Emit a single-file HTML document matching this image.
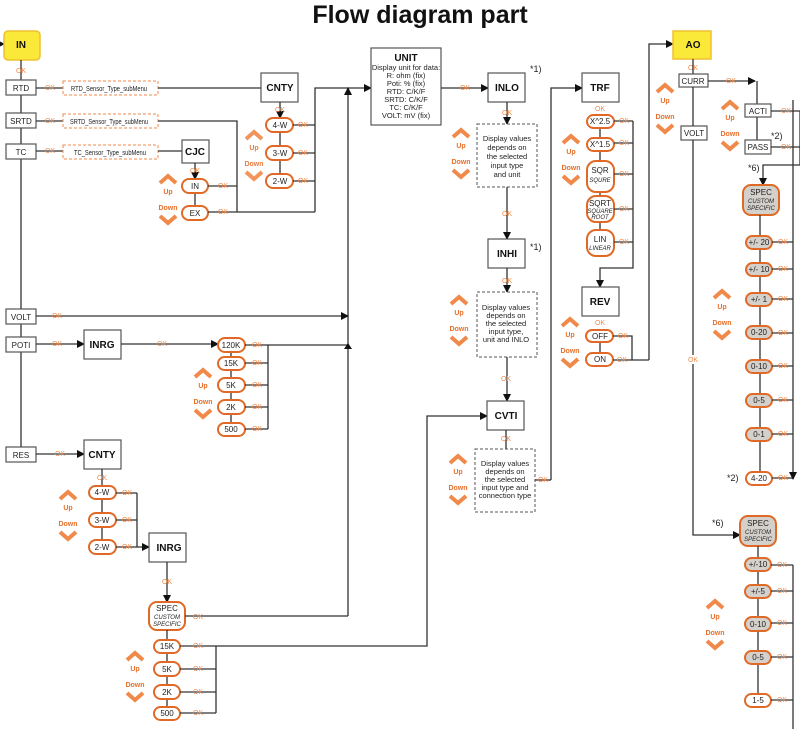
<!DOCTYPE html>
<html><head><meta charset="utf-8"><style>
html,body{margin:0;padding:0;background:#fff;}
svg{display:block;}
text{font-family:"Liberation Sans",sans-serif;}
.ok{fill:#f08a4b;font-size:7px;text-anchor:middle;}
.l{stroke:#333;stroke-width:1.3;fill:none;}
.b{fill:#fff;stroke:#555;stroke-width:1.2;}
.p{fill:#fff;stroke:#e06a25;stroke-width:2;}
.pg{fill:#d4d0cc;stroke:#e06a25;stroke-width:2;}
.pt{font-size:8px;text-anchor:middle;fill:#222;}
.bt{font-size:10px;font-weight:bold;text-anchor:middle;fill:#111;}
.st{font-size:6px;font-style:italic;text-anchor:middle;fill:#222;}
.d{fill:#fff;stroke:#555;stroke-width:1;stroke-dasharray:3,2;}
.do{fill:#fff;stroke:#f08a4b;stroke-width:1;stroke-dasharray:3,2;}
.ud{fill:#e8702a;font-size:7px;font-weight:bold;text-anchor:middle;}
.dt{font-size:7.5px;text-anchor:middle;fill:#222;}
.sm{font-size:7px;fill:#222;}
</style></head><body>
<svg width="800" height="729" viewBox="0 0 800 729" xmlns="http://www.w3.org/2000/svg">
<defs>
<marker id="a" markerWidth="8" markerHeight="8" refX="7" refY="4" orient="auto" markerUnits="userSpaceOnUse"><path d="M0,0 L8,4 L0,8 z" fill="#111"/></marker>
<g id="ud">
<path d="M-8,6 L0,-1 L8,6" stroke="#f08a4b" stroke-width="4" fill="none"/>
<text class="ud" x="0" y="17">Up</text>
<text class="ud" x="0" y="33">Down</text>
<path d="M-8,39 L0,46 L8,39" stroke="#f08a4b" stroke-width="4" fill="none"/>
</g>
</defs>
<text x="420" y="23" font-size="25" font-weight="bold" text-anchor="middle" fill="#111">Flow diagram part</text>

<!-- IN -->
<line class="l" x1="0" y1="44" x2="4" y2="44" marker-end="url(#a)"/>
<rect x="4" y="31" width="36" height="29" rx="4" fill="#fbe93a" stroke="#f0c030" stroke-width="1.5"/>
<text class="bt" x="21" y="48">IN</text>
<line class="l" x1="21" y1="60" x2="21" y2="455"/>
<text class="ok" x="21" y="73">OK</text>
<rect class="b" x="6" y="80" width="30" height="15"/><text class="pt" x="21" y="91">RTD</text>
<rect class="b" x="6" y="113" width="30" height="15"/><text class="pt" x="21" y="124">SRTD</text>
<rect class="b" x="6" y="144" width="30" height="15"/><text class="pt" x="21" y="155">TC</text>
<rect class="b" x="6" y="309" width="30" height="15"/><text class="pt" x="21" y="320">VOLT</text>
<rect class="b" x="6" y="337" width="30" height="15"/><text class="pt" x="21" y="348">POTI</text>
<rect class="b" x="6" y="447" width="30" height="15"/><text class="pt" x="21" y="458">RES</text>

<line class="l" x1="36" y1="88" x2="63" y2="88"/><text class="ok" x="50" y="90">OK</text>
<line class="l" x1="36" y1="121" x2="63" y2="121"/><text class="ok" x="50" y="123">OK</text>
<line class="l" x1="36" y1="151" x2="63" y2="151"/><text class="ok" x="50" y="153">OK</text>
<rect class="do" x="63" y="81" width="95" height="14"/><text class="sm" x="71" y="91" textLength="76" lengthAdjust="spacingAndGlyphs">RTD_Sensor_Type_subMenu</text>
<rect class="do" x="63" y="114" width="95" height="14"/><text class="sm" x="70" y="124" textLength="78" lengthAdjust="spacingAndGlyphs">SRTD_Sensor_Type_subMenu</text>
<rect class="do" x="63" y="145" width="95" height="14"/><text class="sm" x="74" y="155" textLength="72" lengthAdjust="spacingAndGlyphs">TC_Sensor_Type_subMenu</text>

<line class="l" x1="158" y1="88" x2="261" y2="88"/>
<polyline class="l" points="158,121 237,121 237,212"/>
<line class="l" x1="158" y1="151" x2="182" y2="151"/>

<!-- CJC -->
<rect class="b" x="182" y="140" width="27" height="23"/><text class="bt" x="195" y="155">CJC</text>
<line class="l" x1="195" y1="163" x2="195" y2="179" marker-end="url(#a)"/>
<text class="ok" x="195" y="173">OK</text>
<line class="l" x1="195" y1="193" x2="195" y2="206"/>
<rect class="p" x="182" y="179" width="26" height="14" rx="7"/><text class="pt" x="195" y="189">IN</text>
<rect class="p" x="182" y="206" width="26" height="14" rx="7"/><text class="pt" x="195" y="216">EX</text>
<line class="l" x1="208" y1="186" x2="237" y2="186"/><text class="ok" x="223" y="188">OK</text>
<line class="l" x1="208" y1="212" x2="315" y2="212"/><text class="ok" x="223" y="214">OK</text>
<use href="#ud" x="168" y="177"/>

<!-- CNTY top -->
<rect class="b" x="261" y="73" width="37" height="29"/><text class="bt" x="280" y="91">CNTY</text>
<line class="l" x1="280" y1="102" x2="280" y2="118" marker-end="url(#a)"/>
<text class="ok" x="280" y="112">OK</text>
<line class="l" x1="280" y1="132" x2="280" y2="174"/>
<rect class="p" x="266" y="118" width="27" height="14" rx="7"/><text class="pt" x="280" y="128">4-W</text>
<rect class="p" x="266" y="146" width="27" height="14" rx="7"/><text class="pt" x="280" y="156">3-W</text>
<rect class="p" x="266" y="174" width="27" height="14" rx="7"/><text class="pt" x="280" y="184">2-W</text>
<line class="l" x1="293" y1="125" x2="315" y2="125"/><text class="ok" x="303" y="127">OK</text>
<line class="l" x1="293" y1="153" x2="315" y2="153"/><text class="ok" x="303" y="155">OK</text>
<line class="l" x1="293" y1="181" x2="315" y2="181"/><text class="ok" x="303" y="183">OK</text>
<use href="#ud" x="254" y="133" opacity="0.9"/>
<polyline class="l" points="315,212 315,88 371,88" marker-end="url(#a)"/>
<line class="l" x1="348" y1="616" x2="348" y2="88" marker-end="url(#a)"/>

<!-- VOLT / POTI -->
<line class="l" x1="36" y1="316" x2="348" y2="316" marker-end="url(#a)"/><text class="ok" x="57" y="318">OK</text>
<line class="l" x1="36" y1="344" x2="84" y2="344" marker-end="url(#a)"/><text class="ok" x="57" y="346">OK</text>
<rect class="b" x="84" y="330" width="37" height="29"/><text class="bt" x="102" y="348">INRG</text>
<line class="l" x1="121" y1="344" x2="218" y2="344" marker-end="url(#a)"/><text class="ok" x="162" y="346">OK</text>
<line class="l" x1="231" y1="351" x2="231" y2="423"/>
<rect class="p" x="218" y="338" width="27" height="14" rx="7"/><text class="pt" x="231" y="348">120K</text>
<rect class="p" x="218" y="357" width="27" height="13" rx="6.5"/><text class="pt" x="231" y="366">15K</text>
<rect class="p" x="218" y="378" width="27" height="14" rx="7"/><text class="pt" x="231" y="388">5K</text>
<rect class="p" x="218" y="400" width="27" height="14" rx="7"/><text class="pt" x="231" y="410">2K</text>
<rect class="p" x="218" y="423" width="27" height="13" rx="6.5"/><text class="pt" x="231" y="432">500</text>
<line class="l" x1="245" y1="345" x2="268" y2="345"/><text class="ok" x="257" y="347">OK</text>
<line class="l" x1="245" y1="363" x2="268" y2="363"/><text class="ok" x="257" y="365">OK</text>
<line class="l" x1="245" y1="385" x2="268" y2="385"/><text class="ok" x="257" y="387">OK</text>
<line class="l" x1="245" y1="407" x2="268" y2="407"/><text class="ok" x="257" y="409">OK</text>
<line class="l" x1="245" y1="429" x2="268" y2="429"/><text class="ok" x="257" y="431">OK</text>
<line class="l" x1="268" y1="345" x2="268" y2="429"/>
<line class="l" x1="268" y1="345" x2="348" y2="345"/>
<path d="M344,349 L348,343 L352,349z" fill="#111"/>
<use href="#ud" x="203" y="371"/>

<!-- RES -->
<line class="l" x1="36" y1="454" x2="84" y2="454" marker-end="url(#a)"/><text class="ok" x="60" y="456">OK</text>
<rect class="b" x="84" y="440" width="37" height="29"/><text class="bt" x="102" y="458">CNTY</text>
<line class="l" x1="102" y1="469" x2="102" y2="540"/><text class="ok" x="102" y="480">OK</text>
<rect class="p" x="89" y="486" width="27" height="13" rx="6.5"/><text class="pt" x="102" y="495">4-W</text>
<rect class="p" x="89" y="513" width="27" height="14" rx="7"/><text class="pt" x="102" y="523">3-W</text>
<rect class="p" x="89" y="540" width="27" height="14" rx="7"/><text class="pt" x="102" y="550">2-W</text>
<line class="l" x1="116" y1="493" x2="137" y2="493"/><text class="ok" x="127" y="495">OK</text>
<line class="l" x1="116" y1="520" x2="137" y2="520"/><text class="ok" x="127" y="522">OK</text>
<line class="l" x1="116" y1="547" x2="149" y2="547" marker-end="url(#a)"/><text class="ok" x="127" y="549">OK</text>
<line class="l" x1="137" y1="493" x2="137" y2="547"/>
<use href="#ud" x="68" y="493"/>
<rect class="b" x="149" y="533" width="37" height="29"/><text class="bt" x="169" y="551">INRG</text>
<line class="l" x1="167" y1="562" x2="167" y2="602" marker-end="url(#a)"/><text class="ok" x="167" y="584">OK</text>
<rect class="p" x="149" y="602" width="36" height="28" rx="8"/>
<text class="pt" x="167" y="611">SPEC</text><text class="st" x="167" y="619">CUSTOM</text><text class="st" x="167" y="626">SPECIFIC</text>
<line class="l" x1="185" y1="616" x2="348" y2="616"/><text class="ok" x="198" y="619">OK</text>
<line class="l" x1="167" y1="630" x2="167" y2="707"/>
<rect class="p" x="154" y="640" width="26" height="13" rx="6.5"/><text class="pt" x="167" y="649">15K</text>
<rect class="p" x="154" y="662" width="26" height="14" rx="7"/><text class="pt" x="167" y="672">5K</text>
<rect class="p" x="154" y="685" width="26" height="14" rx="7"/><text class="pt" x="167" y="695">2K</text>
<rect class="p" x="154" y="707" width="26" height="13" rx="6.5"/><text class="pt" x="167" y="716">500</text>
<line class="l" x1="180" y1="646" x2="216" y2="646"/><text class="ok" x="198" y="648">OK</text>
<line class="l" x1="180" y1="669" x2="216" y2="669"/><text class="ok" x="198" y="671">OK</text>
<line class="l" x1="180" y1="692" x2="216" y2="692"/><text class="ok" x="198" y="694">OK</text>
<line class="l" x1="180" y1="713" x2="216" y2="713"/><text class="ok" x="198" y="715">OK</text>
<line class="l" x1="216" y1="646" x2="216" y2="713"/>
<polyline class="l" points="216,646 427,646 427,416 487,416" marker-end="url(#a)"/>
<use href="#ud" x="135" y="654"/>

<!-- UNIT -->
<rect class="b" x="371" y="48" width="70" height="77"/>
<text class="bt" x="406" y="61">UNIT</text>
<text class="dt" font-size="6" x="406" y="70">Display unit for data:</text>
<text class="dt" font-size="6" x="406" y="78">R: ohm (fix)</text>
<text class="dt" font-size="6" x="406" y="86">Poti: % (fix)</text>
<text class="dt" font-size="6" x="406" y="94">RTD: C/K/F</text>
<text class="dt" font-size="6" x="406" y="102">SRTD: C/K/F</text>
<text class="dt" font-size="6" x="406" y="110">TC: C/K/F</text>
<text class="dt" font-size="6" x="406" y="118">VOLT: mV (fix)</text>
<line class="l" x1="441" y1="88" x2="488" y2="88" marker-end="url(#a)"/><text class="ok" x="465" y="90">OK</text>

<!-- INLO column -->
<rect class="b" x="488" y="73" width="37" height="29"/><text class="bt" x="507" y="91">INLO</text>
<text x="530" y="72" font-size="9" fill="#222">*1)</text>
<line class="l" x1="507" y1="102" x2="507" y2="124" marker-end="url(#a)"/><text class="ok" x="507" y="115">OK</text>
<rect class="d" x="477" y="124" width="60" height="63"/>
<text class="dt" x="507" y="141">Display values</text><text class="dt" x="507" y="150">depends on</text><text class="dt" x="507" y="159">the selected</text><text class="dt" x="507" y="168">input type</text><text class="dt" x="507" y="177">and unit</text>
<use href="#ud" x="461" y="131"/>
<line class="l" x1="507" y1="187" x2="507" y2="239" marker-end="url(#a)"/><text class="ok" x="507" y="216">OK</text>
<rect class="b" x="488" y="239" width="37" height="29"/><text class="bt" x="507" y="257">INHI</text>
<text x="530" y="250" font-size="9" fill="#222">*1)</text>
<line class="l" x1="507" y1="268" x2="507" y2="292" marker-end="url(#a)"/><text class="ok" x="507" y="283">OK</text>
<rect class="d" x="477" y="292" width="60" height="65"/>
<text class="dt" x="506" y="310">Display values</text><text class="dt" x="506" y="318">depends on</text><text class="dt" x="506" y="326">the selected</text><text class="dt" x="506" y="334">input type,</text><text class="dt" x="506" y="342">unit and INLO</text>
<use href="#ud" x="459" y="298"/>
<line class="l" x1="507" y1="357" x2="507" y2="401" marker-end="url(#a)"/><text class="ok" x="506" y="381">OK</text>
<rect class="b" x="487" y="401" width="37" height="29"/><text class="bt" x="506" y="419">CVTI</text>
<line class="l" x1="506" y1="430" x2="506" y2="449"/><text class="ok" x="506" y="441">OK</text>
<rect class="d" x="475" y="449" width="60" height="63"/>
<text class="dt" x="505" y="466">Display values</text><text class="dt" x="505" y="474">depends on</text><text class="dt" x="505" y="482">the selected</text><text class="dt" x="505" y="490">input type and</text><text class="dt" x="505" y="498">connection type</text>
<use href="#ud" x="458" y="457"/>
<line class="l" x1="535" y1="480" x2="551" y2="480"/><text class="ok" x="543" y="482">OK</text>
<polyline class="l" points="551,480 551,88 582,88" marker-end="url(#a)"/>

<!-- TRF -->
<rect class="b" x="582" y="73" width="37" height="29"/><text class="bt" x="600" y="91">TRF</text>
<text class="ok" x="600" y="111">OK</text>
<line class="l" x1="600" y1="128" x2="600" y2="230"/>
<rect class="p" x="587" y="115" width="27" height="13" rx="6.5"/><text class="pt" x="600" y="124">X^2.5</text>
<rect class="p" x="587" y="138" width="27" height="13" rx="6.5"/><text class="pt" x="600" y="147">X^1.5</text>
<rect class="p" x="587" y="161" width="27" height="31" rx="9"/><text class="pt" x="600" y="173">SQR</text><text class="st" x="600" y="182">SQURE</text>
<rect class="p" x="587" y="196" width="27" height="26" rx="9"/><text class="pt" x="600" y="206">SQRT</text><text class="st" x="600" y="213">SQUARE</text><text class="st" x="600" y="219">ROOT</text>
<rect class="p" x="587" y="230" width="27" height="26" rx="9"/><text class="pt" x="600" y="242">LIN</text><text class="st" x="600" y="250">LINEAR</text>
<line class="l" x1="614" y1="121" x2="633" y2="121"/><text class="ok" x="624" y="123">OK</text>
<line class="l" x1="614" y1="143" x2="633" y2="143"/><text class="ok" x="624" y="145">OK</text>
<line class="l" x1="614" y1="174" x2="633" y2="174"/><text class="ok" x="624" y="176">OK</text>
<line class="l" x1="614" y1="209" x2="633" y2="209"/><text class="ok" x="624" y="211">OK</text>
<line class="l" x1="614" y1="242" x2="633" y2="242"/><text class="ok" x="624" y="244">OK</text>
<polyline class="l" points="633,121 633,268 600,268 600,287" marker-end="url(#a)"/>
<use href="#ud" x="571" y="137"/>

<!-- REV -->
<rect class="b" x="582" y="287" width="37" height="29"/><text class="bt" x="600" y="305">REV</text>
<text class="ok" x="600" y="325">OK</text>
<line class="l" x1="600" y1="342" x2="600" y2="353"/>
<rect class="p" x="586" y="330" width="27" height="12" rx="6"/><text class="pt" x="600" y="339">OFF</text>
<rect class="p" x="586" y="353" width="27" height="13" rx="6.5"/><text class="pt" x="600" y="362">ON</text>
<polyline class="l" points="613,336 632,336 632,360"/><text class="ok" x="623" y="338">OK</text>
<line class="l" x1="613" y1="360" x2="649" y2="360"/><text class="ok" x="622" y="362">OK</text>
<polyline class="l" points="649,360 649,44 673,44" marker-end="url(#a)"/>
<use href="#ud" x="570" y="320"/>

<!-- AO -->
<rect x="673" y="31" width="38" height="28" fill="#fbe93a" stroke="#f0c030" stroke-width="1.5"/>
<text class="bt" x="693" y="48">AO</text>
<text class="ok" x="693" y="70">OK</text>
<line class="l" x1="693" y1="59" x2="693" y2="74"/>
<rect class="b" x="679" y="74" width="29" height="13"/><text class="pt" x="693" y="84">CURR</text>
<rect class="b" x="681" y="126" width="26" height="14"/><text class="pt" x="694" y="136">VOLT</text>
<line class="l" x1="693" y1="87" x2="693" y2="126"/>
<polyline class="l" points="693,140 693,535 740,535" marker-end="url(#a)"/>
<rect x="686" y="355" width="14" height="9" fill="#fff"/><text class="ok" x="693" y="362">OK</text>
<use href="#ud" x="665" y="86"/>
<line class="l" x1="708" y1="81" x2="755" y2="81" marker-end="url(#a)"/><text class="ok" x="731" y="83">OK</text>
<line class="l" x1="757" y1="81" x2="757" y2="147"/>
<rect class="b" x="745" y="104" width="26" height="13"/><text class="pt" x="758" y="114">ACTI</text>
<rect class="b" x="745" y="140" width="26" height="14"/><text class="pt" x="758" y="150">PASS</text>
<text x="771" y="139" font-size="9" fill="#222">*2)</text>
<line class="l" x1="771" y1="111" x2="800" y2="111"/><text class="ok" x="786" y="113">OK</text>
<line class="l" x1="771" y1="147" x2="800" y2="147"/><text class="ok" x="786" y="149">OK</text>
<polyline class="l" points="800,111 800,165 763,165 763,185" marker-end="url(#a)"/>
<text x="748" y="171" font-size="9" fill="#222">*6)</text>
<use href="#ud" x="730" y="103"/>

<rect class="pg" x="743" y="185" width="36" height="30" rx="8"/>
<text class="pt" x="761" y="195">SPEC</text><text class="st" x="761" y="203">CUSTOM</text><text class="st" x="761" y="210">SPECIFIC</text>
<line class="l" x1="760" y1="215" x2="760" y2="472"/>
<rect class="pg" x="746" y="236" width="26" height="13" rx="6.5"/><text class="pt" x="759" y="245">+/- 20</text>
<rect class="pg" x="746" y="263" width="26" height="13" rx="6.5"/><text class="pt" x="759" y="272">+/- 10</text>
<rect class="pg" x="746" y="293" width="26" height="13" rx="6.5"/><text class="pt" x="759" y="302">+/- 1</text>
<rect class="pg" x="746" y="326" width="26" height="13" rx="6.5"/><text class="pt" x="759" y="335">0-20</text>
<rect class="pg" x="746" y="360" width="26" height="13" rx="6.5"/><text class="pt" x="759" y="369">0-10</text>
<rect class="pg" x="746" y="394" width="26" height="13" rx="6.5"/><text class="pt" x="759" y="403">0-5</text>
<rect class="pg" x="746" y="428" width="26" height="13" rx="6.5"/><text class="pt" x="759" y="437">0-1</text>
<rect class="p" x="746" y="472" width="26" height="13" rx="6.5"/><text class="pt" x="759" y="481">4-20</text>
<text x="727" y="481" font-size="9" fill="#222">*2)</text>
<line class="l" x1="772" y1="242" x2="793" y2="242"/><text class="ok" x="783" y="244">OK</text>
<line class="l" x1="772" y1="269" x2="793" y2="269"/><text class="ok" x="783" y="271">OK</text>
<line class="l" x1="772" y1="299" x2="793" y2="299"/><text class="ok" x="783" y="301">OK</text>
<line class="l" x1="772" y1="333" x2="793" y2="333"/><text class="ok" x="783" y="335">OK</text>
<line class="l" x1="772" y1="366" x2="793" y2="366"/><text class="ok" x="783" y="368">OK</text>
<line class="l" x1="772" y1="400" x2="793" y2="400"/><text class="ok" x="783" y="402">OK</text>
<line class="l" x1="772" y1="434" x2="793" y2="434"/><text class="ok" x="783" y="436">OK</text>
<line class="l" x1="772" y1="478" x2="793" y2="478"/><text class="ok" x="783" y="480">OK</text>
<line class="l" x1="793" y1="100" x2="793" y2="479" marker-end="url(#a)"/>
<use href="#ud" x="722" y="292"/>

<text x="712" y="526" font-size="9" fill="#222">*6)</text>
<rect class="pg" x="740" y="516" width="36" height="30" rx="8"/>
<text class="pt" x="758" y="526">SPEC</text><text class="st" x="758" y="534">CUSTOM</text><text class="st" x="758" y="541">SPECIFIC</text>
<line class="l" x1="758" y1="546" x2="758" y2="694"/>
<rect class="pg" x="745" y="558" width="26" height="13" rx="6.5"/><text class="pt" x="758" y="567">+/-10</text>
<rect class="pg" x="745" y="585" width="26" height="13" rx="6.5"/><text class="pt" x="758" y="594">+/-5</text>
<rect class="pg" x="745" y="617" width="26" height="14" rx="7"/><text class="pt" x="758" y="627">0-10</text>
<rect class="pg" x="745" y="651" width="26" height="13" rx="6.5"/><text class="pt" x="758" y="660">0-5</text>
<rect class="p" x="745" y="694" width="26" height="13" rx="6.5"/><text class="pt" x="758" y="703">1-5</text>
<line class="l" x1="771" y1="565" x2="793" y2="565"/><text class="ok" x="782" y="567">OK</text>
<line class="l" x1="771" y1="591" x2="793" y2="591"/><text class="ok" x="782" y="593">OK</text>
<line class="l" x1="771" y1="623" x2="793" y2="623"/><text class="ok" x="782" y="625">OK</text>
<line class="l" x1="771" y1="657" x2="793" y2="657"/><text class="ok" x="782" y="659">OK</text>
<line class="l" x1="771" y1="700" x2="793" y2="700"/><text class="ok" x="782" y="702">OK</text>
<line class="l" x1="793" y1="565" x2="793" y2="729"/>
<use href="#ud" x="715" y="602"/>
</svg>
</body></html>
